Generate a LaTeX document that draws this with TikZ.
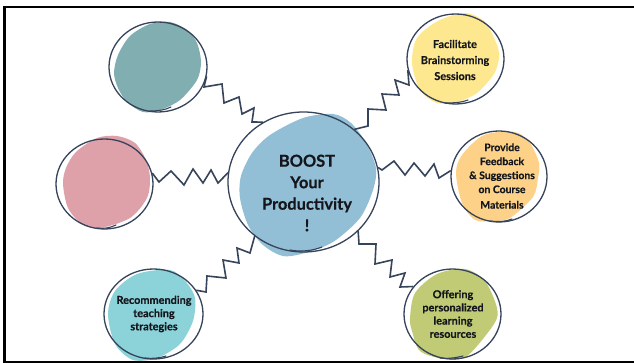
\documentclass[tikz,border=0pt]{standalone}
\usepackage{fontspec}
\setmainfont{Lato}[BoldFeatures={FakeBold=0.4}]
\usetikzlibrary{shapes.geometric}
\definecolor{ink}{HTML}{36435A}
\definecolor{tealb}{HTML}{81AEB0}
\definecolor{pinkb}{HTML}{DEA0A9}
\definecolor{blueb}{HTML}{93BFD6}
\definecolor{yellowb}{HTML}{FEE88F}
\definecolor{orangeb}{HTML}{FDD288}
\definecolor{aquab}{HTML}{8CD3D9}
\definecolor{oliveb}{HTML}{C1CB76}
\definecolor{txt}{HTML}{14161C}
\tikzset{
  bubble/.style={ellipse,draw=ink,line width=1.3pt,inner sep=0pt,fill=none},
  zig/.style={draw=ink,line width=1.6pt,line join=miter},
  tail/.style={draw=ink,line width=1.1pt,line cap=round},
  small/.style={align=center,text=txt,inner sep=0pt,font=\bfseries\fontsize{10.9}{13.2}\selectfont},
  big/.style={align=center,text=txt,inner sep=0pt,font=\bfseries\fontsize{16.4}{21.5}\selectfont},
  frameline/.style={draw=black,line width=2.4pt}
}
\begin{document}
\begin{tikzpicture}[x=1pt,y=-1pt]
\useasboundingbox (0,0) rectangle (634,363);
\fill[white] (0,0) rectangle (634,363);
\draw[frameline] (634,7) -- (4.5,7) -- (4.5,362) -- (634,362);
% colour blobs
\fill[tealb] plot[smooth cycle,tension=.5] coordinates {(114,73)(118,55)(130,36)(150,24)(170,22)(187,30)(197,43)(201,62)(197,80)(180,100)(160,110)(143,112)(127,102)(118,88)};
\fill[pinkb] plot[smooth cycle,tension=.5] coordinates {(63,184)(66,168)(76,152)(97,138)(117,136)(135,143)(146,160)(150,178)(147,198)(130,218)(100,228)(82,224)(68,208)};
\fill[blueb] plot[smooth cycle,tension=.5] coordinates {(270,135)(303,118)(333,114)(351,123)(366,143)(376,168)(373,190)(360,218)(333,242)(305,253)(283,256)(263,245)(248,225)(240,198)(241,176)(252,153)};
\fill[yellowb] plot[smooth cycle,tension=.5] coordinates {(412,63)(417,38)(438,21)(465,13)(485,22)(497,45)(499,58)(494,74)(477,93)(457,102)(437,103)(420,90)};
\fill[orangeb] plot[smooth cycle,tension=.5] coordinates {(456,173)(462,155)(484,135)(515,132)(530,143)(539,163)(538,178)(533,197)(510,218)(493,221)(475,220)(462,203)};
\fill[aquab] plot[smooth cycle,tension=.5] coordinates {(108,314)(115,291)(137,274)(170,270)(186,282)(195,298)(193,321)(180,344)(157,358)(133,360)(115,344)};
\fill[oliveb] plot[smooth cycle,tension=.5] coordinates {(410,318)(415,293)(437,274)(465,269)(485,281)(497,308)(494,324)(467,356)(444,359)(420,351)(412,331)};
% outline nodes
\node[bubble,minimum width=151pt,minimum height=140pt] (hub) at (303.5,182) {};
\node[bubble,minimum width=98pt,minimum height=90pt] (teal) at (158,67) {};
\node[bubble,minimum width=97pt,minimum height=90pt] (pink) at (104.5,184) {};
\node[bubble,minimum width=97pt,minimum height=90pt] (yellow) at (455.5,59) {};
\node[bubble,minimum width=96pt,minimum height=91pt] (orange) at (499,176.5) {};
\node[bubble,minimum width=99pt,minimum height=90pt] (aqua) at (153.5,314) {};
\node[bubble,minimum width=97pt,minimum height=90pt] (olive) at (452.5,314) {};
% hand-drawn overlaps
\draw[tail] (150,111) .. controls (158,111) and (165,110) .. (171,107);
\draw[tail] (97,228) .. controls (103,229) and (110,228) .. (116,225);
\draw[tail] (445,103) .. controls (452,103) and (460,103) .. (468,100);
\draw[tail] (490,221) .. controls (497,222) and (505,222) .. (512,219);
\draw[tail] (145,358) .. controls (152,359) and (160,358) .. (166,356);
\draw[tail] (440,358) .. controls (447,359) and (455,358) .. (463,356);
\draw[tail] (290,250) .. controls (300,252) and (312,251) .. (322,247);
% connectors
\draw[zig] (teal.-11) -- (204,87) -- (222,84) -- (224,103) -- (239,97) -- (242,114) -- (254,108) -- (252,122) -- (hub.124);
\draw[zig] (pink.13) -- (159,182) -- (171,171) -- (184,185) -- (193,169) -- (203,183) -- (211,170) -- (218,183) -- (hub.173);
\draw[zig] (yellow.193) -- (409,85) -- (395,80) -- (399,95) -- (382,94) -- (386,110) -- (368,109) -- (368,126) -- (hub.46);
\draw[zig] (orange.173.5) -- (439,178) -- (434,164) -- (425,176) -- (414,163) -- (405,175) -- (394,161) -- (382,170) -- (hub.11);
\draw[zig] (aqua.29) -- (206,292) -- (207,276) -- (226,278) -- (223,260) -- (239,263) -- (237,248) -- (250,253) -- (hub.228);
\draw[zig] (olive.145) -- (400,287) -- (405,273) -- (390,277) -- (392,260) -- (375,264) -- (376,244) -- (359,244) -- (hub.-42.6);
% texts
\node[big] (hubtext) at (307,193) {BOOST\\Your\\Productivity\\!};
\node[small,font=\bfseries\fontsize{10.9}{16}\selectfont] (yellowtext) at (455,60) {Facilitate\\Brainstorming\\Sessions};
\node[small,font=\bfseries\fontsize{10.4}{14}\selectfont] (orangetext) at (502,176) {Provide\\Feedback\\\& Suggestions\\on Course\\[1.5pt]Materials};
\node[small] (aquatext) at (154,314) {Recommending\\teaching\\strategies};
\node[small] (olivetext) at (453,314) {Offering\\personalized\\learning\\resources};
\end{tikzpicture}
\end{document}
